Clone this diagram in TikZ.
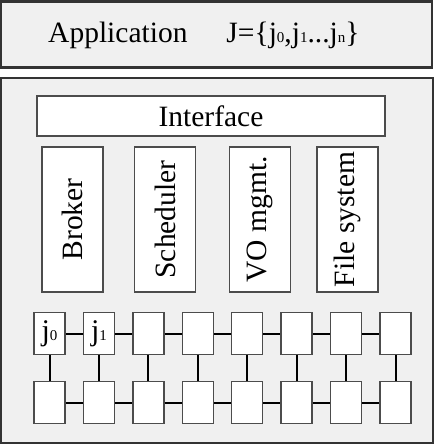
\documentclass[tikz,border=0pt]{standalone}
\usepackage{fontspec}
\setmainfont{Liberation Serif}
\usetikzlibrary{positioning}
\newcommand{\jsub}[1]{{\fontsize{15}{15}\selectfont #1}}

\begin{document}
\begin{tikzpicture}[x=1pt, y=1pt,
  panel/.style={draw=black!80, fill=black!6, line width=2pt, inner sep=0pt},
  blk/.style={draw=black!70, fill=white, line width=1.5pt, inner sep=0pt},
  module/.style={blk, minimum width=61pt, minimum height=145pt},
  cell/.style={blk, minimum width=31pt, minimum height=42pt},
  lbl/.style={font=\fontsize{29.5}{32}\selectfont},
  link/.style={line width=2pt}]
  \useasboundingbox (0,0) rectangle (436,-444);
  \node[panel, line width=2.5pt, minimum width=431pt, minimum height=66pt] (app) at (216.5,-34.5) {};
  \node[lbl, anchor=base west, inner sep=0pt] (apptxt) at (48,-43)
    {Application\hspace{39pt}J=\{j\jsub{0},j\jsub{1}...j\jsub{n}\}};
  \node[panel, minimum width=432pt, minimum height=365pt] (sys) at (217,-260.5) {};
  \node[blk, lbl, minimum width=348pt, minimum height=40pt] (iface) at (211,-116) {Interface};
  \node[module] (broker) at (72.5,-219.5) {};
  \node[module] (sched) at (165,-219.5) {};
  \node[module] (vo) at (260,-219.5) {};
  \node[module] (fs) at (347.5,-219.5) {};
  \node[lbl, rotate=90] at (broker.center) {Broker};
  \node[lbl, rotate=90] at (sched.center) {Scheduler};
  \node[lbl, rotate=90] at (vo.center) {VO mgmt.};
  \node[lbl, rotate=90] at (fs.center) {File system};
  \foreach \i in {1,...,8} {
    \node[cell] (t\i) at ({49.5+49.43*(\i-1)},-333.5) {};
    \node[cell] (b\i) at ({49.5+49.43*(\i-1)},-402.5) {};
    \draw[link] (t\i) -- (b\i);
  }
  \node[lbl, font=\fontsize{30}{32}\selectfont] at (t1) {j\jsub{0}};
  \node[lbl, font=\fontsize{30}{32}\selectfont] at (t2) {j\jsub{1}};
  \foreach \i [remember=\i as \j (initially 1)] in {2,...,8} {
    \draw[link] (t\j) -- (t\i);
    \draw[link] (b\j) -- (b\i);
  }
\end{tikzpicture}
\end{document}
